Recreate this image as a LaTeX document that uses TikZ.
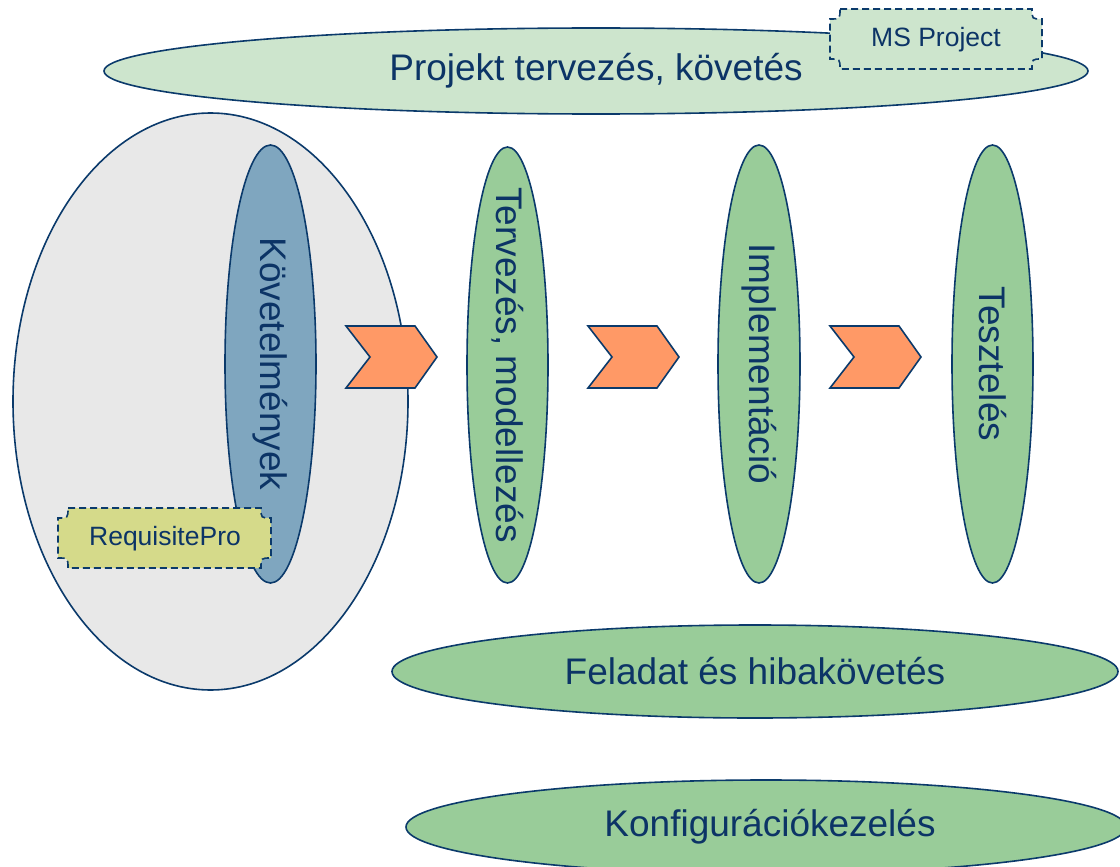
\documentclass[tikz,border=0pt]{standalone}
\usepackage{fontspec}
\setmainfont{Liberation Sans}
\usetikzlibrary{shapes.geometric}
\definecolor{navy}{HTML}{0B3A6B}
\definecolor{txt}{HTML}{0C3466}
\definecolor{palegreen}{HTML}{CDE5CD}
\definecolor{midgreen}{HTML}{99CC99}
\definecolor{steel}{HTML}{7FA6BF}
\definecolor{greyfill}{HTML}{E8E8E8}
\definecolor{orangefill}{HTML}{FF9966}
\definecolor{olivefill}{HTML}{D5DA8A}
\begin{document}
\begin{tikzpicture}[x=1pt,y=-1pt,
  oval/.style={ellipse, draw=navy, line width=1.6pt, inner sep=0pt},
  big/.style={text=txt, font=\fontsize{37}{42}\selectfont, inner sep=0pt},
  vlabel/.style={big, rotate=-90},
  plaque/.style={draw=navy, line width=1.6pt, dash pattern=on 7pt off 4pt},
  tool/.style={text=txt, font=\fontsize{26.5}{30}\selectfont, inner sep=0pt},
  chev/.style={draw=navy, line width=1.6pt, fill=orangefill, line join=miter}]
\useasboundingbox (0,0) rectangle (1120,867);

% project planning
\node[oval, fill=palegreen, minimum width=984pt, minimum height=86pt] (proj) at (596,71) {};
\node[big] (projtext) at (proj.center) {Projekt tervezés, követés};
\draw[plaque, fill=palegreen] (840,9) -- (1032,9) .. controls (1032,19) .. (1042,19) -- (1042,59)
  .. controls (1032,59) .. (1032,69) -- (840,69) .. controls (840,59) .. (830,59) -- (830,19)
  .. controls (840,19) .. (840,9) -- cycle;
\node[tool] (ms) at (936,40) {MS Project};

% requirements
\node[oval, fill=greyfill, minimum width=395pt, minimum height=577pt] (reqarea) at (210.5,401.5) {};
\node[oval, fill=steel, minimum width=91pt, minimum height=438pt] (req) at (270.5,364) {};
\node[vlabel] (reqtext) at (req.center) {Követelmények};
\draw[plaque, fill=olivefill] (68,508) -- (261,508) .. controls (261,518) .. (271,518) -- (271,558)
  .. controls (261,558) .. (261,568) -- (68,568) .. controls (68,558) .. (58,558) -- (58,518)
  .. controls (68,518) .. (68,508) -- cycle;
\node[tool] (rp) at (165,539) {RequisitePro};

% phases
\node[oval, fill=midgreen, minimum width=81pt, minimum height=436pt] (terv) at (507.5,365) {};
\node[vlabel] (tervtext) at (terv.center) {Tervezés, modellezés};
\node[oval, fill=midgreen, minimum width=82pt, minimum height=438pt] (impl) at (759,364) {};
\node[vlabel] (impltext) at (impl.center) {Implementáció};
\node[oval, fill=midgreen, minimum width=81pt, minimum height=438pt] (teszt) at (992.5,364) {};
\node[vlabel] (tesztext) at (teszt.center) {Tesztelés};

% chevrons
\foreach \x/\n in {346/c1,588/c2,830/c3}{
  \coordinate (\n) at (\x,326);
  \draw[chev] (\n) -- ++(69,0) -- ++(22,31) -- ++(-22,31) -- ++(-69,0) -- ++(24,-31) -- cycle;
}

% cross-cutting
\node[oval, fill=midgreen, minimum width=726pt, minimum height=93pt] (hiba) at (755,671.5) {};
\node[big] (hibatext) at (hiba.center) {Feladat és hibakövetés};
\node[oval, fill=midgreen, minimum width=720pt, minimum height=94pt] (konf) at (766,827) {};
\node[big] (konftext) at (770,827) {Konfigurációkezelés};
\end{tikzpicture}
\end{document}
